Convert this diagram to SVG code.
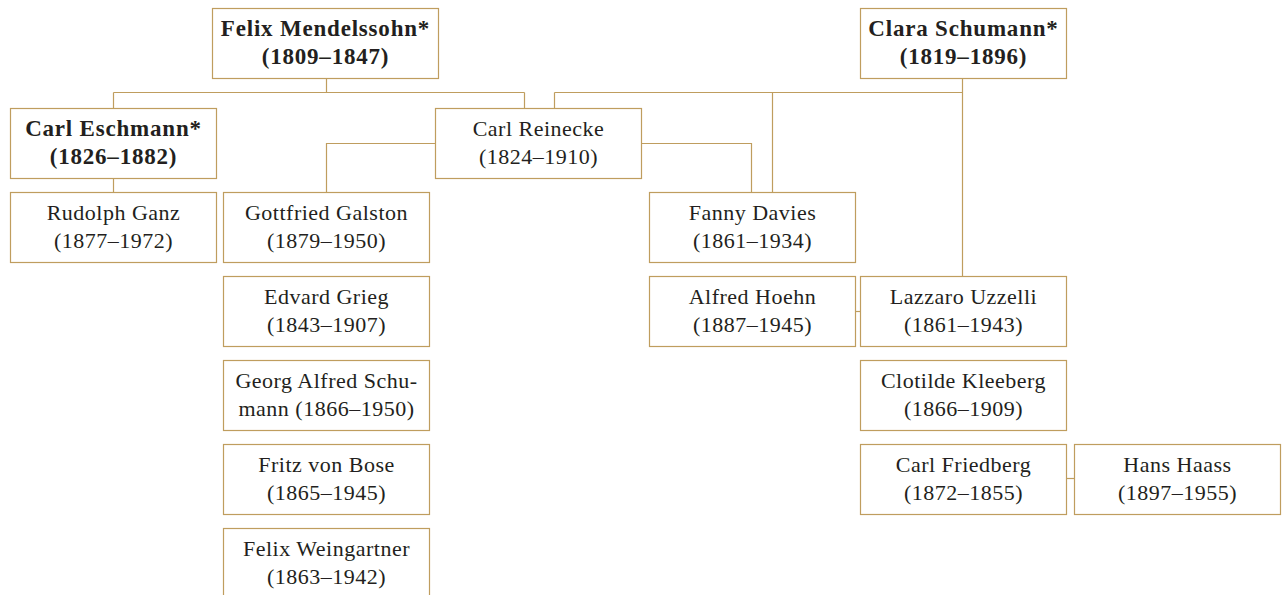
<svg xmlns="http://www.w3.org/2000/svg" width="1282" height="595" viewBox="0 0 1282 595">
  <style>
    .box { fill: #ffffff; stroke: #bf9d5e; stroke-width: 1.2; }
    .wire { fill: none; stroke: #bf9d5e; stroke-width: 1.2; }
    text { font-family: "Liberation Serif", "Times New Roman", serif; font-size: 22px; fill: #231f20; text-anchor: middle; letter-spacing: 0.5px; }
    .strong { font-weight: bold; font-size: 23px; letter-spacing: 0.8px; }
  </style>
  <rect width="1282" height="595" fill="#ffffff"/>

  <!-- lines of descent -->
  <g id="connectors">
    <path class="wire" d="M326.5,78.5 V92.5 M113.5,92.5 H524.5 M113.5,92.5 V108.5 M524.5,92.5 V108.5"/>
    <path class="wire" d="M113.5,178.5 V192.5"/>
    <path class="wire" d="M962.5,78.5 V276.5 M554.5,92.5 H962.5 M554.5,92.5 V108.5 M772.5,92.5 V192.5"/>
    <path class="wire" d="M435.5,143.5 H326.5 V192.5 M641.5,143.5 H751.5 V192.5"/>
    <path class="wire" d="M855.5,311.5 H860.5"/>
    <path class="wire" d="M1066.5,478.5 H1074.5"/>
  </g>

  <g id="mendelssohn">
    <rect class="box" x="212.5" y="8.5" width="226" height="70"/>
    <text class="strong" x="325.5" y="35.5">Felix Mendelssohn*</text>
    <text class="strong" x="325.5" y="64">(1809–1847)</text>
  </g>
  <g id="clara-schumann">
    <rect class="box" x="860.5" y="8.5" width="206" height="70"/>
    <text class="strong" x="963.5" y="35.5">Clara Schumann*</text>
    <text class="strong" x="963.5" y="64">(1819–1896)</text>
  </g>
  <g id="eschmann">
    <rect class="box" x="10.5" y="108.5" width="206" height="70"/>
    <text class="strong" x="113.5" y="135.5">Carl Eschmann*</text>
    <text class="strong" x="113.5" y="164">(1826–1882)</text>
  </g>
  <g id="reinecke">
    <rect class="box" x="435.5" y="108.5" width="206" height="70"/>
    <text x="538.5" y="135.5">Carl Reinecke</text>
    <text x="538.5" y="164">(1824–1910)</text>
  </g>
  <g id="ganz">
    <rect class="box" x="10.5" y="192.5" width="206" height="70"/>
    <text x="113.5" y="219.5">Rudolph Ganz</text>
    <text x="113.5" y="248">(1877–1972)</text>
  </g>
  <g id="galston">
    <rect class="box" x="223.5" y="192.5" width="206" height="70"/>
    <text x="326.5" y="219.5">Gottfried Galston</text>
    <text x="326.5" y="248">(1879–1950)</text>
  </g>
  <g id="grieg">
    <rect class="box" x="223.5" y="276.5" width="206" height="70"/>
    <text x="326.5" y="303.5">Edvard Grieg</text>
    <text x="326.5" y="332">(1843–1907)</text>
  </g>
  <g id="georg-alfred-schumann">
    <rect class="box" x="223.5" y="360.5" width="206" height="70"/>
    <text x="326.5" y="387.5">Georg Alfred Schu-</text>
    <text x="326.5" y="416">mann (1866–1950)</text>
  </g>
  <g id="bose">
    <rect class="box" x="223.5" y="444.5" width="206" height="70"/>
    <text x="326.5" y="471.5">Fritz von Bose</text>
    <text x="326.5" y="500">(1865–1945)</text>
  </g>
  <g id="weingartner">
    <rect class="box" x="223.5" y="528.5" width="206" height="70"/>
    <text x="326.5" y="555.5">Felix Weingartner</text>
    <text x="326.5" y="584">(1863–1942)</text>
  </g>
  <g id="davies">
    <rect class="box" x="649.5" y="192.5" width="206" height="70"/>
    <text x="752.5" y="219.5">Fanny Davies</text>
    <text x="752.5" y="248">(1861–1934)</text>
  </g>
  <g id="hoehn">
    <rect class="box" x="649.5" y="276.5" width="206" height="70"/>
    <text x="752.5" y="303.5">Alfred Hoehn</text>
    <text x="752.5" y="332">(1887–1945)</text>
  </g>
  <g id="uzzelli">
    <rect class="box" x="860.5" y="276.5" width="206" height="70"/>
    <text x="963.5" y="303.5">Lazzaro Uzzelli</text>
    <text x="963.5" y="332">(1861–1943)</text>
  </g>
  <g id="kleeberg">
    <rect class="box" x="860.5" y="360.5" width="206" height="70"/>
    <text x="963.5" y="387.5">Clotilde Kleeberg</text>
    <text x="963.5" y="416">(1866–1909)</text>
  </g>
  <g id="friedberg">
    <rect class="box" x="860.5" y="444.5" width="206" height="70"/>
    <text x="963.5" y="471.5">Carl Friedberg</text>
    <text x="963.5" y="500">(1872–1855)</text>
  </g>
  <g id="haass">
    <rect class="box" x="1074.5" y="444.5" width="206" height="70"/>
    <text x="1177.5" y="471.5">Hans Haass</text>
    <text x="1177.5" y="500">(1897–1955)</text>
  </g>
</svg>
